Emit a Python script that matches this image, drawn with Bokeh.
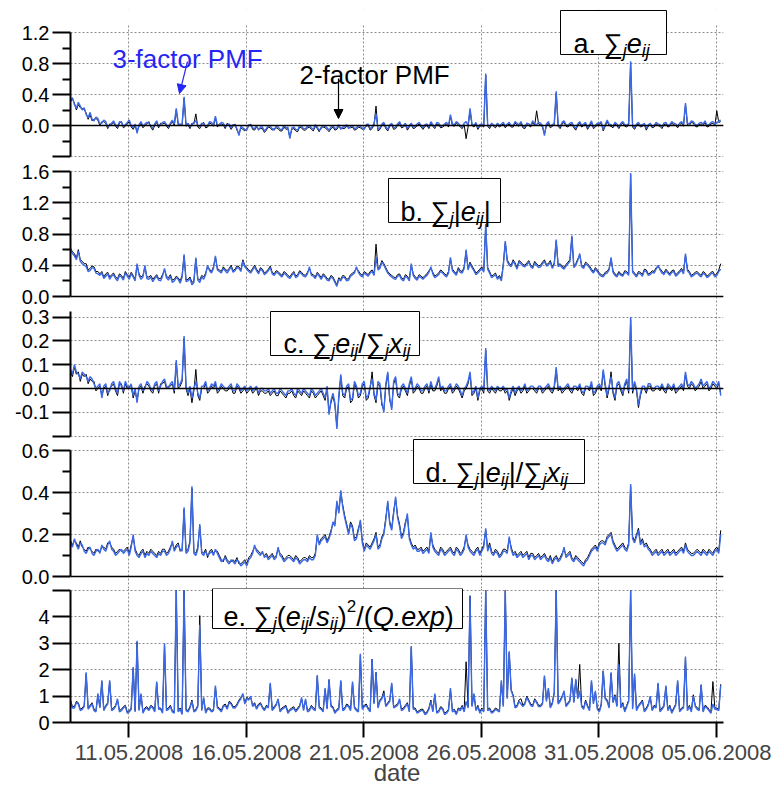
from datetime import datetime, timedelta
from bokeh.plotting import figure
from bokeh.layouts import column
from bokeh.models import (Range1d, FixedTicker, Span, Label, BoxAnnotation, Arrow,
                          NormalHead, DatetimeTickFormatter, CustomJSTickFormatter)
from bokeh.embed import file_html
from bokeh.resources import INLINE

# ---------------- data (2-hourly samples) ----------------
# panel a: sum_j e_ij
A3 = [0.33,0.36,0.27,0.22,0.30,0.25,0.20,0.23,0.14,0.10,
      0.17,0.08,0.06,0.11,0.09,0.02,0.03,0.07,0.05,-0.02,
      0.00,0.03,0.06,0.01,-0.02,0.05,0.04,-0.01,0.01,0.04,
      0.07,0.00,-0.03,0.02,-0.10,0.01,0.05,-0.01,0.02,0.04,
      0.03,0.00,-0.04,0.02,0.06,-0.01,0.01,0.04,0.05,0.01,
      -0.02,0.03,0.07,0.02,0.22,0.03,0.00,0.02,0.37,0.01,
      0.03,-0.02,0.01,0.04,0.06,0.00,-0.02,0.03,0.02,-0.01,
      0.00,0.05,0.04,0.01,0.12,0.00,0.00,0.04,0.03,-0.02,
      0.01,0.02,-0.03,0.01,0.00,-0.04,-0.13,-0.01,-0.03,-0.05,
      -0.06,0.01,0.00,-0.03,-0.04,0.00,-0.06,-0.02,-0.02,-0.07,
      -0.04,0.00,-0.01,-0.04,-0.06,-0.01,-0.02,-0.05,-0.05,0.00,
      -0.03,-0.02,-0.17,-0.03,-0.02,-0.05,-0.06,0.00,-0.01,-0.04,
      -0.04,-0.01,0.00,-0.03,-0.05,0.01,-0.02,-0.06,-0.04,0.00,
      -0.01,-0.03,-0.06,-0.02,0.00,-0.04,-0.03,0.01,-0.05,-0.02,
      -0.02,0.01,-0.04,-0.01,0.00,-0.04,-0.03,0.00,-0.01,-0.03,
      -0.05,0.01,0.02,-0.04,-0.02,0.03,0.15,-0.05,-0.03,0.02,
      0.04,-0.02,-0.05,0.01,0.03,-0.03,-0.02,0.02,0.05,-0.01,
      0.00,0.03,-0.04,0.00,0.03,-0.02,-0.01,0.02,0.04,0.00,
      -0.03,0.01,0.02,-0.02,0.05,0.01,-0.02,0.04,0.03,-0.01,
      0.00,0.02,0.04,0.00,0.14,0.02,0.01,0.05,0.03,0.00,
      -0.02,0.03,0.05,0.00,0.22,0.02,0.00,0.04,-0.03,0.01,
      0.02,0.00,0.67,0.01,-0.02,0.03,0.01,-0.01,0.03,0.00,
      0.02,0.04,-0.01,0.02,0.04,0.00,0.00,0.05,0.03,0.01,
      0.05,-0.01,-0.02,0.03,0.02,0.00,0.06,0.02,0.01,0.04,
      0.03,0.00,-0.13,0.02,0.05,-0.01,0.01,0.03,0.44,0.01,
      -0.02,0.04,0.06,0.01,0.00,0.03,0.04,-0.01,-0.04,0.02,
      0.05,0.00,0.02,0.04,-0.03,0.01,0.06,-0.02,0.00,0.03,
      0.03,0.05,-0.05,0.01,0.07,0.02,0.01,-0.01,0.04,0.02,
      -0.02,0.03,0.05,0.01,0.00,0.03,0.83,0.00,-0.03,0.02,
      0.04,0.00,0.01,0.03,-0.04,0.01,0.03,-0.01,0.00,0.04,
      0.02,0.01,-0.02,0.03,0.04,0.00,0.01,0.05,0.03,0.02,
      -0.01,0.03,0.05,0.01,0.29,0.03,0.02,0.06,0.05,0.01,
      0.00,0.03,0.04,0.02,0.06,0.00,0.01,0.04,0.05,0.02,
      0.03,0.06,0.07]
A2 = [0.31,0.34,0.29,0.20,0.27,0.23,0.22,0.21,0.16,0.08,
      0.14,0.06,0.08,0.09,0.07,0.00,0.05,0.05,0.03,-0.04,
      0.02,0.01,0.04,-0.01,-0.04,0.03,0.05,-0.03,-0.01,0.02,
      0.05,-0.02,-0.05,0.00,-0.08,-0.01,0.03,-0.03,0.00,0.02,
      0.05,-0.02,-0.06,0.00,0.04,-0.03,0.03,0.02,0.03,-0.01,
      -0.04,0.01,0.05,0.00,0.20,0.01,0.02,0.00,0.35,-0.01,
      0.01,-0.04,0.03,0.02,0.15,-0.02,-0.04,0.01,0.04,-0.03,
      -0.02,0.03,0.02,-0.01,0.10,-0.02,0.02,0.02,0.01,-0.04,
      0.03,0.00,-0.05,-0.01,0.02,-0.06,-0.11,-0.03,-0.05,-0.07,
      -0.04,-0.01,0.02,-0.05,-0.06,-0.02,-0.04,-0.04,-0.04,-0.09,
      -0.06,-0.02,-0.03,-0.06,-0.04,-0.03,-0.04,-0.07,-0.07,-0.02,
      -0.05,-0.04,-0.15,-0.05,-0.04,-0.07,-0.08,-0.02,-0.03,-0.06,
      -0.06,-0.03,-0.02,-0.05,-0.07,-0.01,-0.04,-0.08,-0.02,-0.02,
      -0.03,-0.05,-0.08,-0.04,-0.02,-0.06,-0.05,-0.01,-0.03,-0.04,
      -0.04,-0.01,-0.02,-0.03,-0.02,-0.06,-0.05,-0.02,-0.03,-0.05,
      -0.03,-0.01,0.00,-0.06,-0.04,0.01,0.25,-0.07,-0.05,0.00,
      0.02,-0.04,-0.07,-0.01,0.01,-0.05,-0.04,0.00,0.03,-0.03,
      -0.02,0.01,-0.06,-0.02,0.01,-0.04,-0.03,0.00,0.02,-0.02,
      -0.05,-0.01,0.00,-0.04,0.03,-0.01,-0.04,0.02,0.01,-0.03,
      -0.02,0.00,0.02,-0.02,0.12,0.00,-0.01,0.03,0.01,-0.02,
      -0.04,0.01,-0.17,-0.02,0.20,0.00,-0.02,0.02,-0.05,-0.01,
      0.00,-0.02,0.65,-0.01,-0.04,0.01,-0.01,-0.03,0.01,-0.02,
      0.00,0.02,-0.03,0.00,0.02,-0.02,-0.02,0.03,0.01,-0.01,
      0.03,-0.03,-0.04,0.01,0.00,-0.02,0.04,0.00,0.19,0.02,
      0.01,-0.02,-0.11,0.00,0.03,-0.03,-0.01,0.01,0.42,-0.01,
      -0.04,0.02,0.04,-0.01,-0.02,0.01,0.02,-0.03,-0.06,0.00,
      0.03,-0.02,0.00,0.02,-0.05,-0.01,0.04,-0.04,-0.02,0.01,
      0.01,0.03,-0.07,-0.01,0.05,0.00,-0.01,-0.03,0.02,0.00,
      -0.04,0.01,0.03,-0.01,-0.02,0.01,0.81,-0.02,-0.05,0.00,
      0.02,-0.02,-0.01,0.01,-0.06,-0.01,0.01,-0.03,-0.02,0.02,
      0.00,-0.01,-0.04,0.01,0.02,-0.02,-0.01,0.03,0.01,0.00,
      -0.03,0.01,0.03,-0.01,0.27,0.01,0.00,0.04,0.03,-0.01,
      -0.02,0.01,0.02,0.00,0.04,-0.02,-0.01,0.02,0.03,0.00,
      0.19,0.04,0.05]

# panel b: sum_j |e_ij|
B3 = [0.60,0.55,0.52,0.47,0.58,0.45,0.42,0.40,0.38,0.32,
      0.33,0.37,0.36,0.30,0.29,0.27,0.30,0.23,0.26,0.29,
      0.22,0.26,0.28,0.23,0.20,0.27,0.25,0.21,0.30,0.26,
      0.22,0.29,0.25,0.20,0.42,0.27,0.22,0.25,0.40,0.23,
      0.22,0.25,0.19,0.23,0.26,0.21,0.20,0.26,0.36,0.24,
      0.21,0.26,0.18,0.20,0.24,0.22,0.17,0.25,0.54,0.19,
      0.20,0.23,0.15,0.18,0.50,0.21,0.18,0.25,0.22,0.28,
      0.40,0.33,0.30,0.36,0.52,0.34,0.32,0.30,0.36,0.33,
      0.30,0.34,0.38,0.31,0.33,0.37,0.36,0.32,0.45,0.38,
      0.35,0.32,0.30,0.34,0.38,0.33,0.29,0.35,0.33,0.28,
      0.30,0.33,0.37,0.29,0.27,0.31,0.30,0.27,0.25,0.30,
      0.28,0.25,0.23,0.27,0.30,0.24,0.26,0.31,0.29,0.26,
      0.25,0.29,0.38,0.27,0.26,0.23,0.29,0.26,0.22,0.27,
      0.25,0.21,0.20,0.25,0.23,0.18,0.13,0.22,0.20,0.25,
      0.24,0.20,0.21,0.26,0.28,0.30,0.38,0.31,0.27,0.25,
      0.30,0.28,0.26,0.30,0.32,0.27,0.50,0.34,0.36,0.44,
      0.40,0.35,0.30,0.27,0.25,0.23,0.22,0.26,0.27,0.22,
      0.20,0.26,0.24,0.20,0.42,0.27,0.23,0.21,0.26,0.24,
      0.22,0.25,0.27,0.31,0.38,0.29,0.24,0.26,0.28,0.32,
      0.30,0.27,0.25,0.30,0.50,0.33,0.30,0.27,0.35,0.31,
      0.30,0.36,0.60,0.34,0.42,0.37,0.33,0.28,0.30,0.33,
      0.36,0.31,0.93,0.35,0.30,0.24,0.26,0.28,0.22,0.25,
      0.20,0.40,0.71,0.45,0.40,0.38,0.45,0.41,0.35,0.44,
      0.42,0.39,0.38,0.41,0.44,0.38,0.36,0.43,0.40,0.37,
      0.38,0.42,0.45,0.39,0.40,0.44,0.36,0.41,0.73,0.38,
      0.40,0.37,0.35,0.39,0.42,0.45,0.78,0.37,0.40,0.46,
      0.55,0.38,0.36,0.42,0.40,0.37,0.33,0.30,0.35,0.32,
      0.28,0.26,0.25,0.29,0.30,0.34,0.50,0.31,0.27,0.25,
      0.30,0.27,0.26,0.31,0.30,0.27,1.58,0.31,0.28,0.25,
      0.30,0.29,0.26,0.33,0.32,0.27,0.28,0.31,0.30,0.35,
      0.40,0.34,0.30,0.28,0.33,0.30,0.27,0.31,0.32,0.26,
      0.28,0.31,0.34,0.29,0.55,0.33,0.30,0.25,0.27,0.29,
      0.30,0.27,0.25,0.30,0.28,0.24,0.26,0.29,0.30,0.25,
      0.27,0.32,0.35]
B2 = [0.62,0.57,0.55,0.49,0.60,0.47,0.45,0.42,0.42,0.34,
      0.36,0.39,0.38,0.32,0.32,0.29,0.32,0.25,0.29,0.31,
      0.25,0.28,0.30,0.25,0.23,0.29,0.27,0.23,0.32,0.28,
      0.25,0.31,0.27,0.22,0.40,0.29,0.25,0.27,0.38,0.25,
      0.25,0.27,0.22,0.25,0.28,0.23,0.23,0.28,0.34,0.26,
      0.24,0.28,0.21,0.22,0.26,0.24,0.20,0.27,0.52,0.21,
      0.22,0.25,0.18,0.20,0.48,0.23,0.21,0.27,0.25,0.30,
      0.38,0.35,0.32,0.38,0.50,0.36,0.34,0.32,0.38,0.35,
      0.33,0.36,0.40,0.33,0.35,0.39,0.38,0.34,0.47,0.40,
      0.37,0.34,0.32,0.36,0.40,0.35,0.31,0.37,0.35,0.30,
      0.32,0.35,0.39,0.31,0.29,0.33,0.32,0.29,0.27,0.32,
      0.30,0.27,0.25,0.29,0.32,0.26,0.28,0.33,0.31,0.28,
      0.27,0.31,0.36,0.29,0.28,0.25,0.31,0.28,0.24,0.29,
      0.27,0.23,0.22,0.27,0.25,0.20,0.15,0.24,0.22,0.27,
      0.26,0.22,0.23,0.28,0.30,0.32,0.36,0.33,0.29,0.27,
      0.32,0.30,0.28,0.32,0.34,0.29,0.67,0.36,0.38,0.46,
      0.42,0.37,0.32,0.29,0.27,0.25,0.24,0.28,0.29,0.24,
      0.22,0.28,0.26,0.22,0.40,0.29,0.25,0.23,0.28,0.26,
      0.24,0.27,0.29,0.33,0.36,0.31,0.26,0.28,0.30,0.34,
      0.32,0.29,0.27,0.32,0.48,0.35,0.32,0.29,0.37,0.33,
      0.32,0.38,0.58,0.36,0.44,0.39,0.35,0.30,0.32,0.35,
      0.38,0.33,0.91,0.37,0.32,0.26,0.28,0.30,0.24,0.27,
      0.22,0.42,0.69,0.47,0.42,0.40,0.47,0.43,0.37,0.46,
      0.44,0.41,0.40,0.43,0.46,0.40,0.38,0.45,0.42,0.39,
      0.40,0.44,0.47,0.41,0.42,0.46,0.38,0.43,0.71,0.40,
      0.42,0.39,0.37,0.41,0.44,0.47,0.76,0.39,0.42,0.48,
      0.53,0.40,0.38,0.44,0.42,0.39,0.35,0.32,0.37,0.34,
      0.30,0.28,0.27,0.31,0.32,0.36,0.48,0.33,0.29,0.27,
      0.32,0.29,0.28,0.33,0.32,0.29,1.56,0.33,0.30,0.27,
      0.32,0.31,0.28,0.35,0.34,0.29,0.30,0.33,0.32,0.37,
      0.38,0.36,0.32,0.30,0.35,0.32,0.29,0.33,0.34,0.28,
      0.30,0.33,0.36,0.31,0.53,0.35,0.32,0.27,0.29,0.31,
      0.32,0.29,0.27,0.32,0.30,0.26,0.28,0.31,0.32,0.27,
      0.29,0.34,0.42]

# panel c: sum_j e_ij / sum_j x_ij
C3 = [0.08,0.06,0.10,0.07,0.06,0.04,0.07,0.06,0.05,0.03,
      0.05,0.04,0.02,0.00,0.01,0.02,-0.04,0.01,0.02,-0.02,
      -0.01,0.02,0.03,0.00,-0.02,0.03,0.01,-0.01,0.03,0.01,
      0.00,0.02,-0.03,0.00,-0.06,0.01,0.02,-0.01,0.00,0.03,
      0.02,0.00,-0.01,0.02,0.03,-0.01,0.01,0.03,0.04,0.01,
      0.00,0.02,0.03,-0.01,0.12,0.01,0.02,0.04,0.22,0.01,
      -0.02,0.01,-0.04,0.00,0.03,-0.02,-0.04,0.01,0.01,0.03,
      -0.01,0.00,0.02,0.01,0.03,-0.01,0.00,0.02,0.01,0.00,
      0.00,0.01,0.02,-0.01,-0.01,0.02,0.01,-0.01,0.00,0.01,
      -0.01,0.00,0.01,-0.01,0.00,0.01,-0.02,0.00,0.00,-0.01,
      -0.01,0.00,-0.02,-0.01,0.00,-0.02,-0.02,0.00,-0.01,-0.02,
      -0.03,-0.01,-0.01,0.00,-0.02,-0.03,0.00,-0.01,-0.02,0.00,
      -0.01,-0.02,-0.03,0.00,-0.01,-0.03,-0.02,-0.01,0.00,-0.02,
      -0.04,0.01,-0.11,-0.05,-0.02,-0.06,-0.17,-0.03,0.06,-0.02,
      -0.03,0.01,0.02,-0.05,-0.04,0.03,0.01,-0.03,-0.02,0.02,
      0.03,-0.04,-0.03,0.01,0.04,-0.02,-0.05,0.03,0.02,-0.06,
      -0.10,0.02,0.07,-0.04,-0.09,0.03,0.05,-0.02,-0.03,0.01,
      0.02,0.00,-0.02,0.02,0.05,-0.01,0.00,0.02,0.01,-0.01,
      -0.01,0.01,0.02,-0.01,0.03,0.00,0.00,0.02,0.05,0.00,
      0.01,-0.01,-0.01,0.01,0.02,-0.01,0.00,0.02,0.01,-0.01,
      -0.03,0.00,0.01,0.03,0.07,-0.02,-0.01,0.01,-0.04,0.00,
      0.01,-0.01,0.17,0.00,-0.01,0.01,0.00,-0.01,0.01,0.00,
      0.00,0.01,-0.01,0.00,-0.04,-0.01,0.01,-0.02,0.00,0.01,
      -0.01,0.00,0.02,-0.01,0.00,0.01,0.01,0.00,-0.01,0.01,
      0.01,-0.01,0.00,0.01,0.02,0.00,-0.01,0.01,0.09,0.00,
      0.01,-0.01,0.00,0.01,0.02,0.00,-0.01,0.01,0.01,0.00,
      0.02,-0.01,-0.02,0.01,0.01,0.00,0.03,-0.02,-0.01,0.01,
      0.02,0.00,0.08,0.02,-0.03,0.01,0.05,-0.01,-0.04,0.02,
      0.03,0.00,-0.02,0.02,0.04,-0.01,0.30,-0.01,0.03,0.00,
      -0.07,-0.02,0.01,0.01,-0.01,0.02,0.02,0.00,0.00,0.01,
      0.01,0.00,0.02,0.00,-0.01,0.02,0.01,0.00,0.02,-0.01,
      0.00,0.01,0.02,0.00,0.07,0.02,0.01,0.03,0.02,0.00,
      0.01,0.02,0.04,0.01,0.02,0.03,0.00,0.01,0.03,0.02,
      0.01,0.03,-0.03]
C2 = [0.07,0.05,0.09,0.06,0.07,0.03,0.06,0.05,0.06,0.02,
      0.04,0.03,0.03,-0.01,0.00,0.01,-0.03,0.00,0.01,-0.03,
      0.00,0.01,0.02,-0.01,-0.03,0.02,0.02,-0.02,0.02,0.00,
      0.01,0.01,-0.04,-0.01,-0.05,0.00,0.01,-0.02,0.01,0.02,
      0.01,-0.01,-0.02,0.01,0.02,-0.02,0.02,0.02,0.03,0.00,
      0.01,0.01,0.02,-0.02,0.11,0.00,0.01,0.03,0.21,0.00,
      -0.03,0.00,-0.06,-0.01,0.08,-0.03,-0.05,0.00,0.00,0.02,
      -0.02,-0.01,0.01,0.00,0.02,-0.02,-0.01,0.01,0.00,-0.01,
      -0.01,0.00,0.01,-0.02,-0.02,0.01,0.00,-0.02,-0.01,0.00,
      -0.02,-0.01,0.00,-0.02,-0.01,0.00,-0.03,-0.01,-0.01,-0.02,
      -0.02,-0.01,-0.03,-0.02,-0.01,-0.03,-0.03,-0.01,-0.02,-0.03,
      -0.04,-0.02,-0.02,-0.01,-0.03,-0.04,-0.01,-0.02,-0.03,-0.01,
      -0.02,-0.03,-0.04,-0.01,-0.02,-0.04,-0.03,-0.02,-0.01,-0.03,
      -0.05,0.00,-0.10,-0.06,-0.03,-0.07,-0.16,-0.04,0.05,-0.03,
      -0.04,0.00,0.01,-0.06,-0.05,0.02,0.00,-0.04,-0.03,0.01,
      0.02,-0.05,-0.04,0.00,0.07,-0.03,-0.06,0.02,0.01,-0.07,
      -0.09,0.01,0.06,-0.05,-0.08,0.02,0.04,-0.03,-0.04,0.00,
      0.01,-0.01,-0.03,0.01,0.04,-0.02,-0.01,0.01,0.00,-0.02,
      -0.02,0.00,0.01,-0.02,0.02,-0.01,-0.01,0.01,0.04,-0.01,
      0.00,-0.02,-0.02,0.00,0.01,-0.02,-0.01,0.01,0.00,-0.02,
      -0.04,-0.01,0.00,0.02,0.06,-0.03,-0.02,0.00,-0.05,-0.01,
      0.00,-0.02,0.16,-0.01,-0.02,0.00,-0.01,-0.02,0.00,-0.01,
      -0.01,0.00,-0.02,-0.01,-0.05,-0.02,0.00,-0.03,-0.01,0.00,
      -0.02,-0.01,0.01,-0.02,-0.01,0.00,0.00,-0.01,-0.02,0.00,
      0.00,-0.02,-0.01,0.00,0.01,-0.01,-0.02,0.00,0.08,-0.01,
      0.00,-0.02,-0.01,0.00,0.01,-0.01,-0.02,0.00,0.00,-0.01,
      0.01,-0.02,-0.03,0.00,0.00,-0.01,0.02,-0.03,-0.02,0.00,
      0.01,-0.01,0.07,0.01,-0.04,0.00,0.07,-0.02,-0.05,0.01,
      0.02,-0.01,-0.03,0.01,0.03,-0.02,0.29,-0.02,0.02,-0.01,
      -0.08,-0.03,0.00,0.00,-0.02,0.01,0.01,-0.01,-0.01,0.00,
      0.00,-0.01,0.01,-0.01,-0.02,0.01,0.00,-0.01,0.01,-0.02,
      -0.01,0.00,0.01,-0.01,0.06,0.01,0.00,0.02,0.01,-0.01,
      0.00,0.01,0.03,0.00,0.01,0.02,-0.01,0.00,0.02,0.01,
      0.00,0.02,-0.02]

# panel d: sum_j |e_ij| / sum_j x_ij
D3 = [0.16,0.14,0.18,0.15,0.13,0.16,0.15,0.12,0.11,0.13,
      0.14,0.11,0.10,0.12,0.13,0.11,0.15,0.13,0.12,0.15,
      0.17,0.13,0.12,0.10,0.11,0.12,0.13,0.11,0.12,0.13,
      0.10,0.14,0.20,0.12,0.10,0.09,0.11,0.12,0.09,0.11,
      0.10,0.12,0.11,0.10,0.09,0.11,0.10,0.12,0.12,0.10,
      0.11,0.13,0.17,0.12,0.14,0.15,0.13,0.12,0.33,0.11,
      0.12,0.16,0.43,0.11,0.10,0.13,0.25,0.11,0.10,0.12,
      0.10,0.11,0.12,0.10,0.13,0.11,0.09,0.07,0.08,0.09,
      0.07,0.06,0.08,0.07,0.06,0.08,0.07,0.05,0.06,0.07,
      0.05,0.08,0.09,0.11,0.15,0.12,0.11,0.10,0.12,0.09,
      0.10,0.08,0.09,0.10,0.08,0.09,0.14,0.10,0.09,0.07,
      0.08,0.09,0.09,0.08,0.07,0.09,0.08,0.06,0.07,0.08,
      0.08,0.07,0.09,0.08,0.08,0.10,0.20,0.15,0.17,0.18,
      0.19,0.16,0.18,0.21,0.26,0.24,0.36,0.30,0.41,0.33,
      0.28,0.24,0.20,0.25,0.23,0.17,0.18,0.22,0.27,0.16,
      0.12,0.15,0.14,0.13,0.15,0.17,0.20,0.13,0.14,0.18,
      0.20,0.27,0.36,0.25,0.22,0.30,0.38,0.28,0.24,0.18,
      0.20,0.25,0.30,0.18,0.15,0.13,0.14,0.12,0.12,0.13,
      0.11,0.12,0.13,0.11,0.21,0.14,0.12,0.11,0.10,0.13,
      0.12,0.10,0.11,0.12,0.13,0.11,0.10,0.13,0.12,0.10,
      0.11,0.13,0.20,0.14,0.12,0.11,0.10,0.12,0.13,0.10,
      0.12,0.14,0.23,0.12,0.15,0.11,0.10,0.12,0.11,0.09,
      0.10,0.12,0.12,0.11,0.19,0.13,0.10,0.11,0.09,0.10,
      0.11,0.09,0.10,0.11,0.08,0.10,0.10,0.08,0.09,0.10,
      0.08,0.09,0.10,0.08,0.07,0.09,0.06,0.08,0.09,0.07,
      0.08,0.10,0.14,0.09,0.10,0.11,0.08,0.07,0.09,0.08,
      0.07,0.06,0.05,0.07,0.08,0.10,0.12,0.13,0.14,0.12,
      0.15,0.16,0.16,0.15,0.18,0.19,0.20,0.16,0.14,0.12,
      0.13,0.14,0.15,0.13,0.12,0.15,0.44,0.18,0.16,0.19,
      0.22,0.15,0.17,0.14,0.15,0.13,0.12,0.10,0.11,0.12,
      0.10,0.11,0.12,0.10,0.11,0.12,0.10,0.11,0.12,0.10,
      0.11,0.12,0.13,0.11,0.15,0.12,0.11,0.10,0.10,0.11,
      0.12,0.11,0.10,0.12,0.11,0.10,0.12,0.11,0.10,0.12,
      0.13,0.11,0.20]
D2 = [0.17,0.15,0.17,0.16,0.14,0.17,0.14,0.13,0.12,0.14,
      0.13,0.12,0.11,0.13,0.12,0.12,0.14,0.14,0.13,0.16,
      0.16,0.14,0.13,0.11,0.12,0.13,0.12,0.12,0.13,0.14,
      0.11,0.15,0.19,0.13,0.11,0.10,0.12,0.13,0.10,0.12,
      0.11,0.13,0.12,0.11,0.10,0.12,0.11,0.13,0.13,0.11,
      0.12,0.14,0.16,0.13,0.15,0.16,0.12,0.13,0.32,0.12,
      0.13,0.17,0.42,0.12,0.11,0.14,0.24,0.12,0.11,0.13,
      0.09,0.12,0.13,0.11,0.12,0.12,0.10,0.08,0.07,0.10,
      0.08,0.07,0.07,0.08,0.07,0.09,0.06,0.06,0.07,0.08,
      0.06,0.09,0.10,0.12,0.14,0.13,0.12,0.11,0.11,0.10,
      0.11,0.09,0.10,0.11,0.09,0.10,0.13,0.11,0.10,0.08,
      0.09,0.10,0.10,0.09,0.08,0.10,0.09,0.07,0.08,0.09,
      0.09,0.08,0.10,0.09,0.09,0.11,0.19,0.16,0.18,0.19,
      0.20,0.17,0.19,0.22,0.25,0.25,0.35,0.31,0.40,0.34,
      0.29,0.25,0.21,0.26,0.24,0.18,0.19,0.23,0.26,0.17,
      0.13,0.16,0.15,0.14,0.16,0.18,0.21,0.14,0.15,0.19,
      0.21,0.28,0.35,0.26,0.23,0.31,0.37,0.29,0.25,0.19,
      0.21,0.26,0.29,0.19,0.16,0.14,0.15,0.13,0.13,0.14,
      0.12,0.13,0.14,0.12,0.20,0.15,0.13,0.12,0.11,0.14,
      0.13,0.11,0.12,0.13,0.14,0.12,0.11,0.14,0.13,0.11,
      0.12,0.14,0.19,0.15,0.13,0.12,0.11,0.13,0.14,0.11,
      0.13,0.15,0.22,0.13,0.16,0.12,0.11,0.13,0.12,0.10,
      0.11,0.13,0.13,0.12,0.18,0.14,0.11,0.12,0.10,0.11,
      0.12,0.10,0.11,0.12,0.09,0.11,0.11,0.09,0.10,0.11,
      0.09,0.10,0.11,0.09,0.08,0.10,0.07,0.09,0.10,0.08,
      0.09,0.11,0.13,0.10,0.11,0.12,0.09,0.08,0.10,0.09,
      0.08,0.07,0.06,0.08,0.09,0.11,0.13,0.14,0.15,0.13,
      0.16,0.17,0.17,0.16,0.19,0.20,0.21,0.17,0.15,0.13,
      0.14,0.15,0.16,0.14,0.13,0.16,0.43,0.19,0.17,0.20,
      0.23,0.16,0.18,0.15,0.16,0.14,0.13,0.11,0.12,0.13,
      0.11,0.12,0.13,0.11,0.12,0.13,0.11,0.12,0.13,0.11,
      0.12,0.13,0.14,0.12,0.16,0.13,0.12,0.11,0.11,0.12,
      0.13,0.12,0.11,0.13,0.12,0.11,0.13,0.12,0.11,0.13,
      0.14,0.12,0.22]

# panel e: sum_j (e_ij/s_ij)^2 / Q.exp   (values at the top of the axis read as 5)
E3 = [0.80,0.55,0.55,0.75,0.70,0.45,0.50,0.60,1.90,0.50,
      0.60,0.70,0.45,0.40,1.10,0.55,1.60,0.45,0.60,0.70,
      1.60,0.45,0.50,0.60,0.90,0.40,0.45,0.55,0.60,0.35,
      0.40,0.50,2.10,0.40,3.10,0.45,1.10,0.35,0.50,0.55,
      0.45,0.60,0.55,0.40,1.55,0.50,0.50,0.35,3.00,0.45,
      0.50,0.60,0.40,0.35,5.00,0.40,0.50,0.30,5.00,0.45,
      0.40,0.55,0.80,0.40,0.45,0.60,3.70,0.45,0.95,0.35,
      0.50,0.50,0.40,0.45,1.40,0.55,0.50,0.40,0.60,0.65,
      0.50,0.75,0.70,0.55,0.55,0.65,0.80,0.90,1.10,0.70,
      0.90,0.85,1.00,0.60,0.70,0.50,0.65,0.70,0.55,0.45,
      0.60,0.55,1.50,0.45,0.55,0.65,0.90,0.40,0.50,0.55,
      0.60,0.35,0.45,0.50,0.55,0.40,0.50,0.60,0.95,0.45,
      0.90,0.40,0.45,0.60,0.50,0.45,1.80,0.55,0.50,0.40,
      1.30,0.50,1.65,0.60,0.55,0.35,0.45,0.50,1.60,0.45,
      0.50,0.65,0.60,0.45,1.55,0.55,0.45,0.40,2.60,0.50,
      0.60,0.65,0.50,0.40,2.40,0.70,1.90,0.55,0.80,0.90,
      1.10,0.60,0.70,0.80,1.50,0.55,0.60,0.65,0.90,0.45,
      0.50,0.60,0.70,0.40,2.90,0.50,0.50,0.35,0.40,0.45,
      0.45,0.30,0.35,0.50,0.80,0.40,1.10,0.35,0.40,0.55,
      0.50,0.30,0.35,0.45,1.30,0.40,0.45,0.30,0.50,0.45,
      0.60,0.40,0.80,0.55,4.80,0.60,1.10,0.45,0.60,0.35,
      0.50,0.40,5.00,0.45,0.50,0.35,0.40,0.50,0.45,0.40,
      1.60,0.60,5.00,0.90,2.70,1.20,1.00,0.55,0.60,0.80,
      0.70,0.60,0.70,0.95,0.80,0.65,0.60,0.85,0.75,0.60,
      0.60,0.70,1.78,0.80,1.30,0.55,0.70,1.10,5.00,0.70,
      0.80,0.95,1.20,0.60,0.70,0.80,1.70,0.75,1.65,0.90,
      1.20,0.60,0.50,0.80,0.60,0.45,1.60,0.70,1.20,0.50,
      0.40,0.65,1.97,0.90,0.80,0.55,1.90,0.75,1.00,0.60,
      2.20,0.55,0.70,0.40,0.60,0.80,5.00,0.50,1.85,0.45,
      0.60,0.70,0.80,0.40,0.50,0.65,1.00,0.45,0.60,0.55,
      1.50,0.40,0.50,0.60,1.40,0.45,0.60,0.35,0.50,0.65,
      1.60,0.40,0.50,0.55,2.50,0.45,0.60,0.40,1.00,0.60,
      0.50,0.45,1.45,0.40,0.60,0.55,0.45,0.35,0.70,0.50,
      0.50,0.45,1.40]
E2 = [0.85,0.60,0.60,0.80,0.75,0.50,0.55,0.65,1.85,0.55,
      0.65,0.75,0.50,0.45,1.05,0.60,1.55,0.50,0.65,0.75,
      1.55,0.50,0.55,0.65,0.85,0.45,0.50,0.60,0.65,0.40,
      0.45,0.55,2.05,0.45,3.05,0.50,1.05,0.40,0.55,0.60,
      0.50,0.65,0.60,0.45,1.50,0.55,0.55,0.40,2.95,0.50,
      0.55,0.65,0.45,0.40,5.00,0.45,0.55,0.35,5.00,0.50,
      0.45,0.60,0.85,0.45,0.50,0.65,4.05,0.50,0.90,0.40,
      0.55,0.55,0.45,0.50,1.35,0.60,0.55,0.45,0.65,0.70,
      0.55,0.80,0.75,0.60,0.60,0.70,0.85,0.95,1.05,0.75,
      0.95,0.90,0.95,0.65,0.75,0.55,0.70,0.75,0.60,0.50,
      0.65,0.60,1.45,0.50,0.60,0.70,0.85,0.45,0.55,0.60,
      0.65,0.40,0.50,0.55,0.60,0.45,0.55,0.65,0.90,0.50,
      0.85,0.45,0.50,0.65,0.55,0.50,1.75,0.60,0.55,0.45,
      1.25,0.55,1.60,0.65,0.60,0.40,0.50,0.55,1.55,0.50,
      0.55,0.70,0.65,0.50,1.50,0.60,0.50,0.45,2.55,0.55,
      0.65,0.70,0.55,0.45,2.40,0.75,1.90,0.60,0.85,0.95,
      1.20,0.65,0.75,0.85,1.45,0.60,0.65,0.70,0.85,0.50,
      0.55,0.65,0.75,0.45,2.85,0.55,0.55,0.40,0.45,0.50,
      0.50,0.35,0.40,0.55,0.85,0.45,1.05,0.40,0.45,0.60,
      0.55,0.35,0.40,0.50,1.25,0.45,0.50,0.35,0.55,0.50,
      0.65,0.45,2.30,0.60,4.80,0.65,1.05,0.50,0.65,0.40,
      0.55,0.45,5.00,0.50,0.55,0.40,0.45,0.55,0.50,0.45,
      1.55,0.65,5.00,0.95,2.65,1.25,1.05,0.60,0.65,0.85,
      0.90,0.65,0.75,1.00,0.85,0.70,0.65,0.90,0.80,0.65,
      0.65,0.75,1.75,0.85,1.25,0.60,0.75,1.15,5.00,0.75,
      0.85,1.00,1.15,0.65,0.75,0.85,1.65,0.80,1.60,0.95,
      2.20,0.65,0.55,0.85,0.65,0.50,1.55,0.75,1.15,0.55,
      0.45,0.70,1.95,0.95,0.85,0.60,1.85,0.80,1.05,0.65,
      3.00,0.60,0.75,0.45,0.65,0.85,5.00,0.55,1.80,0.50,
      0.65,0.75,0.85,0.45,0.55,0.70,0.95,0.50,0.65,0.60,
      1.45,0.45,0.55,0.65,1.35,0.50,0.65,0.40,0.55,0.70,
      1.55,0.45,0.55,0.60,2.45,0.50,0.65,0.45,1.05,0.65,
      0.55,0.50,1.40,0.45,0.65,0.60,0.50,0.40,1.55,0.55,
      0.55,0.50,1.45]

DATE_TICKS = [datetime(2008, 5, 11), datetime(2008, 5, 16), datetime(2008, 5, 21),
              datetime(2008, 5, 26), datetime(2008, 5, 31), datetime(2008, 6, 5)]
T0 = datetime(2008, 5, 8, 12, 20)      # first sample / left edge
T1 = datetime(2008, 6, 5, 7, 10)       # right edge
STEP_HOURS = 2


def sample_times(series):
    return [T0 + timedelta(hours=STEP_HOURS * i) for i in range(len(series))]


# ---------------- styling ----------------
FONT = "Liberation Sans"
BLUE = "#3b68e6"
BLUE_TXT = "#2626f2"
GRID = "#8c8c8c"
EPOCH = datetime(1970, 1, 1)
PAGE_W, PAGE_H = 772, 791


def ms(dt):
    return (dt - EPOCH).total_seconds() * 1000.0


FRAME_W = 653
LEFT_PX = 70
PX_PER_DAY = FRAME_W / ((T1 - T0).total_seconds() / 86400.0)


def xpx(px):
    return ms(T0 + timedelta(days=(px - LEFT_PX) / PX_PER_DAY))


CW = {' ': 278, '.': 278, 'a': 556, 'b': 556, 'c': 500, 'd': 556, 'e': 556, 'i': 222,
      'j': 222, 'x': 500, 's': 500, 'p': 556, 'Q': 778, '|': 260, '/': 278, '(': 333,
      ')': 333, '2': 556, '\u2211': 713}

N = (27, "normal", 0)
I = (27, "italic", 0)
S = (18, "italic", -7)
SUP = (17, "normal", 11)
SIG = "\u2211"

SEG_A = [("a. ", N), (SIG, N), ("j", S), ("e", I), ("ij", S)]
SEG_B = [("b. ", N), (SIG, N), ("j", S), ("|", N), ("e", I), ("ij", S), ("|", N)]
SEG_C = [("c. ", N), (SIG, N), ("j", S), ("e", I), ("ij", S), ("/", N), (SIG, N), ("j", S),
         ("x", I), ("ij", S)]
SEG_D = [("d. ", N), (SIG, N), ("j", S), ("|", N), ("e", I), ("ij", S), ("|", N), ("/", N),
         (SIG, N), ("j", S), ("x", I), ("ij", S)]
SEG_E = [("e. ", N), (SIG, N), ("j", S), ("(", N), ("e", I), ("ij", S), ("/", N), ("s", I),
         ("ij", S), (")", N), ("2", SUP), ("/", N), ("(", N), ("Q.exp", I), (")", N)]

# frame positions (page pixels): top/bottom of each stacked frame
PANELS = [
    dict(s2=A2, s3=A3, zero=125, ppu=77.5, top=9, bottom=159,
         major=[-0.4, 0, 0.4, 0.8, 1.2], minor=[-0.2, 0.2, 0.6, 1.0], bounds=(-0.4, 1.2),
         fmt="return tick < -0.3 ? '' : tick.toFixed(1);",
         box=(560, 666, 10, 54), txt=(573, 43), seg=SEG_A, blank=(9, 24)),
    dict(s2=B2, s3=B3, zero=296, ppu=78.125, top=159, bottom=306,
         major=[0, 0.4, 0.8, 1.2, 1.6], minor=[0.2, 0.6, 1.0, 1.4], bounds=(0, 1.6),
         fmt="return tick.toFixed(1);",
         box=(388, 500, 178, 222), txt=(400, 211), seg=SEG_B, blank=None),
    dict(s2=C2, s3=C3, zero=388, ppu=238.0, top=306, bottom=438,
         major=[-0.2, -0.1, 0, 0.1, 0.2, 0.3], minor=[], bounds=(-0.2, 0.324),
         fmt="return tick < -0.15 ? '' : tick.toFixed(1);",
         box=(270, 419, 311, 355), txt=(283, 343), seg=SEG_C, blank=None),
    dict(s2=D2, s3=D3, zero=576, ppu=210.0, top=438, bottom=588,
         major=[0, 0.2, 0.4, 0.6], minor=[0.1, 0.3, 0.5], bounds=(0, 0.6),
         fmt="return tick.toFixed(1);",
         box=(413, 584, 439, 483), txt=(425, 472), seg=SEG_D, blank=None),
    dict(s2=E2, s3=E3, zero=722, ppu=26.4, top=588, bottom=722,
         major=[0, 1, 2, 3, 4, 5], minor=[], bounds=(0, 5),
         fmt="return tick > 4.5 ? '' : tick.toFixed(0);",
         box=(212, 462, 588, 628), txt=(223, 616), seg=SEG_E, blank=None),
]

XR = Range1d(start=T0, end=T1)
figs = []
for k, sp in enumerate(PANELS):
    first = k == 0
    last = k == len(PANELS) - 1
    top_b = sp["top"] if first else 0
    bot_b = PAGE_H - sp["bottom"] if last else 0
    vy = (lambda s: (lambda py: (s["zero"] - py) / s["ppu"]))(sp)
    p = figure(width=PAGE_W, height=(sp["bottom"] - sp["top"]) + top_b + bot_b,
               x_axis_type="datetime", x_range=XR,
               y_range=Range1d(vy(sp["bottom"]), vy(sp["top"])),
               output_backend="svg", toolbar_location=None,
               x_axis_location="below" if last else None, y_axis_location="left",
               min_border=0, min_border_left=LEFT_PX,
               min_border_right=PAGE_W - LEFT_PX - FRAME_W,
               min_border_top=top_b, min_border_bottom=bot_b)
    p.outline_line_color = None
    p.background_fill_color = "white"
    p.border_fill_color = "white"

    ya = p.yaxis[0]
    ya.ticker = FixedTicker(ticks=sp["major"], minor_ticks=sp["minor"])
    ya.formatter = CustomJSTickFormatter(code=sp["fmt"])
    ya.bounds = sp["bounds"]
    ya.axis_line_width = 2
    ya.axis_line_color = "black"
    ya.major_tick_out = 18
    ya.major_tick_in = 0
    ya.minor_tick_out = 8
    ya.minor_tick_in = 0
    ya.major_tick_line_width = 2
    ya.minor_tick_line_width = 2
    ya.major_label_text_font = FONT
    ya.major_label_text_font_size = "20px"
    ya.major_label_text_color = "black"
    ya.major_label_standoff = 3

    p.ygrid.ticker = FixedTicker(ticks=sp["major"])
    p.xgrid.ticker = FixedTicker(ticks=[ms(d) for d in DATE_TICKS])
    for g in (p.xgrid[0], p.ygrid[0]):
        g.grid_line_color = GRID
        g.grid_line_dash = "2 2"
        g.grid_line_width = 1

    p.line(sample_times(sp["s2"]), sp["s2"], line_color="black", line_width=1)
    p.line(sample_times(sp["s3"]), sp["s3"], line_color=BLUE, line_width=1.4)

    if not last:
        p.add_layout(Span(location=0, dimension="width", line_color="black", line_width=1.5))

    if sp["blank"]:
        b0, b1 = sp["blank"]
        p.add_layout(BoxAnnotation(top=vy(b0), bottom=vy(b1), fill_color="white",
                                   fill_alpha=1.0, line_alpha=0.0, level="annotation"))

    bl, br, bt, bb = sp["box"]
    p.add_layout(BoxAnnotation(left=xpx(bl), right=xpx(br), top=vy(bt), bottom=vy(bb),
                               fill_color="white", fill_alpha=1.0, line_color="black",
                               line_alpha=1.0, line_width=1, level="annotation"))
    tx, ty = sp["txt"]
    off = 0.0
    for text, (size, style, dy) in sp["seg"]:
        p.add_layout(Label(x=xpx(tx), y=vy(ty), x_offset=off, y_offset=dy, text=text,
                           text_font=FONT, text_font_size=f"{size}px", text_font_style=style,
                           text_color="black", text_align="left", text_baseline="alphabetic"))
        off += sum(CW.get(ch, 556) for ch in text) * size / 1000.0

    if first:
        p.add_layout(Label(x=xpx(112), y=vy(58), text="3-factor PMF", text_font=FONT,
                           text_font_size="26px", text_color=BLUE_TXT, text_baseline="alphabetic"))
        p.add_layout(Label(x=xpx(299), y=vy(74), text="2-factor PMF", text_font=FONT,
                           text_font_size="26px", text_color="black", text_baseline="alphabetic"))
        p.add_layout(Arrow(end=NormalHead(size=9, fill_color=BLUE_TXT, line_color=BLUE_TXT),
                           x_start=xpx(187), y_start=vy(61), x_end=xpx(179), y_end=vy(93),
                           line_color=BLUE_TXT, line_width=1.2))
        p.add_layout(Arrow(end=NormalHead(size=9, fill_color="black", line_color="black"),
                           x_start=xpx(338), y_start=vy(78), x_end=xpx(338), y_end=vy(118),
                           line_color="black", line_width=1.2))

    if last:
        xa = p.xaxis[0]
        xa.ticker = FixedTicker(ticks=[ms(d) for d in DATE_TICKS])
        fmt = "%d.%m.%Y"
        xa.formatter = DatetimeTickFormatter(days=fmt, months=fmt, years=fmt, hours=fmt,
                                             hourmin=fmt, minutes=fmt)
        xa.axis_line_width = 2
        xa.major_tick_out = 15
        xa.major_tick_in = 0
        xa.major_tick_line_width = 2
        xa.minor_tick_line_color = None
        xa.major_label_text_font = FONT
        xa.major_label_text_font_size = "22px"
        xa.major_label_standoff = 7
        xa.axis_label = "date"
        xa.axis_label_text_font = FONT
        xa.axis_label_text_font_size = "24px"
        xa.axis_label_text_font_style = "normal"
        xa.axis_label_standoff = -4
    figs.append(p)

layout = column(figs, spacing=0)
open("out.html", "w").write(file_html(layout, INLINE))
